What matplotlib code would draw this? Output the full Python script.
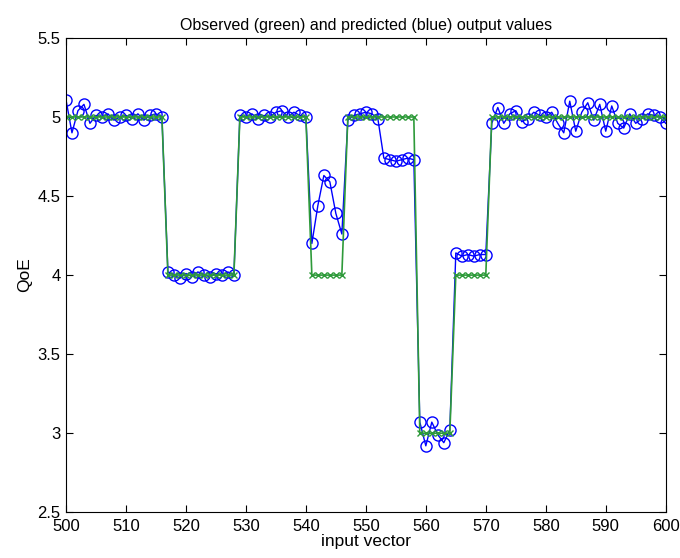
import numpy as np
import matplotlib
matplotlib.use("Agg")
import matplotlib.pyplot as plt

plt.rcParams['font.family'] = ['Liberation Sans', 'DejaVu Sans']

# input vector index
x_vals = list(range(500, 601))

# observed QoE (green)
observed = ([5] * 17 + [4] * 12 + [5] * 12 + [4] * 6 + [5] * 12 +
            [3] * 6 + [4] * 6 + [5] * 30)

# predicted QoE (blue)
predicted = [
    5.11, 4.90, 5.04, 5.08, 4.96, 5.01, 5.00, 5.02, 4.98, 5.00,
    5.01, 4.99, 5.02, 4.98, 5.01, 5.02, 5.00,
    4.02, 4.00, 3.98, 4.01, 3.99, 4.02, 4.00, 3.99, 4.01, 4.00, 4.02, 4.00,
    5.01, 5.00, 5.02, 4.99, 5.01, 5.00, 5.03, 5.04, 5.00, 5.03, 5.01, 5.00,
    4.20, 4.44, 4.63, 4.59, 4.39, 4.26,
    4.98, 5.01, 5.02, 5.03, 5.02, 4.99, 4.74, 4.73, 4.72, 4.73, 4.74, 4.73,
    3.07, 2.92, 3.07, 2.99, 2.94, 3.02,
    4.14, 4.12, 4.13, 4.12, 4.13, 4.13,
    4.96, 5.06, 4.96, 5.02, 5.04, 4.97, 4.99, 5.03, 5.01, 5.00,
    5.03, 4.96, 4.90, 5.10, 4.91, 5.03, 5.09, 4.98, 5.08, 4.91,
    5.07, 4.96, 4.93, 5.02, 4.96, 4.99, 5.02, 5.01, 5.00, 4.96,
]

fig = plt.figure(figsize=(6.8, 5.58), dpi=100)
ax = fig.add_axes([0.097, 0.082, 0.882, 0.85])

ax.plot(x_vals, predicted, '-o', color='#0000ff', markerfacecolor='none',
        markersize=8, linewidth=1)
ax.plot(x_vals, observed, '-x', color='#2e9a3a', markersize=5, linewidth=1.2)

ax.set_xlim(500, 600)
ax.set_ylim(2.5, 5.5)
ax.set_xticks(range(500, 601, 10))
ax.set_yticks([2.5, 3, 3.5, 4, 4.5, 5, 5.5])
ax.set_yticklabels(['2.5', '3', '3.5', '4', '4.5', '5', '5.5'])
ax.tick_params(direction='in', top=True, right=True, labelsize=12, length=5)
ax.tick_params(axis='x', pad=5)
ax.tick_params(axis='y', pad=4)
ax.set_title("Observed (green) and predicted (blue) output values", fontsize=11.5)
ax.set_xlabel("input vector", fontsize=12.5, labelpad=0)
ax.set_ylabel("QoE", fontsize=12.5)

fig.savefig("out.png", dpi=100)
